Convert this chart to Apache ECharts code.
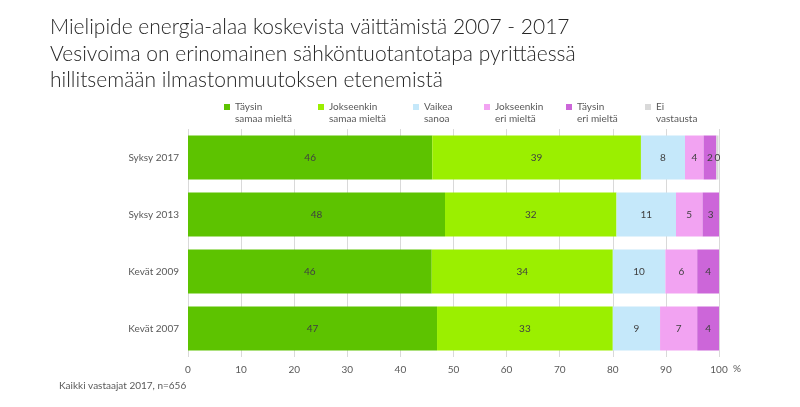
<!DOCTYPE html>
<html>
<head>
<meta charset="utf-8">
<script src="https://cdn.jsdelivr.net/npm/echarts@6/dist/echarts.min.js"></script>
<style>
  html, body { margin: 0; padding: 0; background: #fff; }
  #chart { width: 800px; height: 407px; }
</style>
</head>
<body>
<div id="chart"></div>
<script>
// kyselykierrokset, ylhäältä alas
const categories = ["Syksy 2017", "Syksy 2013", "Kevät 2009", "Kevät 2007"];
const seriesNames = ["Täysin\nsamaa mieltä", "Jokseenkin\nsamaa mieltä", "Vaikea\nsanoa", "Jokseenkin\neri mieltä", "Täysin\neri mieltä", "Ei\nvastausta"];
// prosentit (luettu kuvasta)
const taysinSamaa = [46.0, 48.4, 45.9, 46.9];
const jokseenkinSamaa = [39.3, 32.3, 34.1, 33.1];
const vaikeaSanoa = [8.3, 11.2, 9.9, 8.9];
const jokseenkinEri = [3.5, 5.0, 6.0, 7.0];
const taysinEri = [2.4, 3.1, 4.1, 4.1];
const eiVastausta = [0.4, 0, 0, 0];
const xTicks = [0, 10, 20, 30, 40, 50, 60, 70, 80, 90, 100];

const colors = ["#5DC300", "#9BEF00", "#C5E8FA", "#F2A3F2", "#CC66D9", "#D9D9D9"];
const values = [taysinSamaa, jokseenkinSamaa, vaikeaSanoa, jokseenkinEri, taysinEri, eiVastausta];
const legendLeft = [224, 318, 413, 484, 566, 645];

const font = "Lato, 'Open Sans', sans-serif";
// neliö ylärivin kohdalle, näkymättömät pisteet venyttävät rajat kahden rivin korkeiksi
const legendIcon = "path://M0,0L0.01,0L0,0.01Z M0,3L6,3L6,9L0,9Z M0,24L0.01,24L0,23.99Z";

const chart = echarts.init(document.getElementById("chart"));

const series = seriesNames.map((name, i) => ({
  name: name,
  type: "bar",
  stack: "total",
  barWidth: 44,
  itemStyle: { color: colors[i] },
  label: {
    show: true,
    color: "#404040",
    fontSize: 10,
    fontFamily: font,
    formatter: p => (p.value > 0 || (i === 5 && p.dataIndex === 0)) ? Math.round(p.value) : ""
  },
  data: values[i]
}));

chart.setOption({
  animation: false,
  title: {
    text: "Mielipide energia-alaa koskevista väittämistä 2007 - 2017\nVesivoima on erinomainen sähköntuotantotapa pyrittäessä\nhillitsemään ilmastonmuutoksen etenemistä",
    left: 45,
    top: 9,
    textStyle: { fontFamily: font, fontWeight: 300, fontSize: 21, lineHeight: 26.5, color: "#262626" }
  },
  legend: seriesNames.map((name, i) => ({
    data: [name],
    left: legendLeft[i] - 5,
    top: 96,
    itemWidth: 6,
    itemHeight: 24,
    itemGap: 0,
    icon: legendIcon,
    selectedMode: false,
    textStyle: { fontFamily: font, fontSize: 10, color: "#595959", lineHeight: 12 }
  })),
  grid: { left: 188, right: 81, top: 129, height: 228 },
  xAxis: {
    type: "value",
    min: 0,
    max: 100,
    interval: 10,
    axisLine: { show: false },
    axisTick: { show: false },
    splitLine: { lineStyle: { color: "#D9D9D9" } },
    axisLabel: {
      margin: 8,
      fontFamily: font,
      fontSize: 10,
      color: "#595959",
      formatter: v => xTicks.includes(v) ? v : ""
    }
  },
  yAxis: {
    type: "category",
    inverse: true,
    data: categories,
    axisLine: { show: false },
    axisTick: { show: false },
    axisLabel: { margin: 9, fontFamily: font, fontSize: 10, color: "#595959" }
  },
  graphic: [
    { type: "text", left: 733, top: 364, style: { text: "%", fontFamily: font, fontSize: 10, fill: "#595959" } },
    { type: "text", left: 59, top: 381, style: { text: "Kaikki vastaajat 2017, n=656", fontFamily: font, fontSize: 10, fill: "#595959" } }
  ],
  series: series
});
</script>
</body>
</html>
